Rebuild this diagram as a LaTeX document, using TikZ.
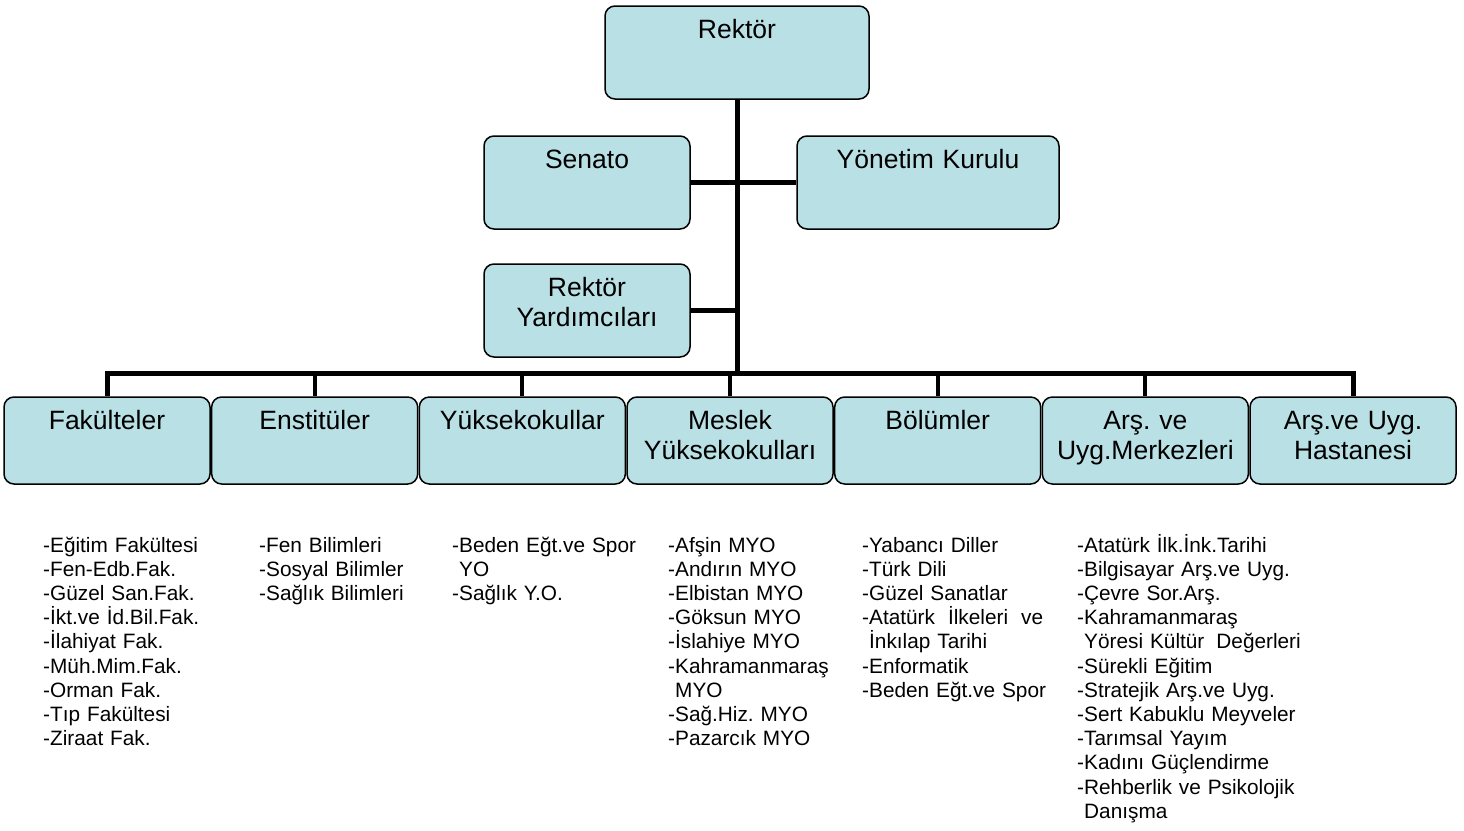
\documentclass[tikz,border=0pt]{standalone}
\usepackage{fontspec}
\setmainfont{Liberation Sans}
\usetikzlibrary{calc}
\definecolor{boxblue}{RGB}{185,224,228}
\newcommand{\boxfont}{\fontsize{26.5}{30.5}\selectfont\frenchspacing}
\newcommand{\listfont}{\fontsize{20.8}{24.2}\selectfont\frenchspacing}

\begin{document}
\begin{tikzpicture}[x=1pt, y=-1pt,
    unit/.style={draw=black, line width=1.5pt, rounded corners=10pt, fill=boxblue,
        align=center, font=\boxfont, inner xsep=4pt, inner ysep=5pt, text height=27pt},
    topunit/.style={unit, text depth=56pt},
    subunit/.style={unit, text width=198pt, text depth=50pt},
    branch/.style={draw=black, line width=5pt},
    sublist/.style={anchor=base west, inner sep=0pt, text width=260pt, align=left, font=\listfont}]
        \useasboundingbox (0,0) rectangle (1464,830);

        % top of the chart
        \node[topunit, text width=256pt] (rektor) at (737,52.5) {Rektör};
        \node[topunit, text width=198pt] (senato) at (587,182.5) {Senato};
        \node[topunit, text width=254pt] (yonetim) at (928,182.5) {Yönetim Kurulu};
        \node[topunit, text width=198pt] (yardimci) at (587,310.5) {Rektör\\Yardımcıları};

        % units
        \foreach \i/\txt in {1/Fakülteler, 2/Enstitüler, 3/Yüksekokullar,
                4/Meslek\\Yüksekokulları, 5/Bölümler, 6/Arş. ve\\Uyg.Merkezleri,
                7/Arş.ve Uyg.\\Hastanesi}
            \node[subunit] (b\i) at ({107+207.67*(\i-1)},440.5) {\txt};

        \coordinate (bus) at (737,373);
        \draw[branch] (rektor) -- (rektor |- bus);
        \draw[branch] (senato) -- (yonetim);
        \draw[branch] (yardimci.east) -- (yardimci.east -| rektor.south);
        \draw[branch] (b1.north) -- (b1.north |- bus) -- (b7.north |- bus) -- (b7.north);
        \foreach \i in {2,...,6}
            \draw[draw=black, line width=4pt] (b\i.north |- bus) -- (b\i.north);

        % lists under the units
        \node[sublist] (l1) at (43,552) {-Eğitim Fakültesi\\-Fen-Edb.Fak.\\-Güzel San.Fak.\\-İkt.ve İd.Bil.Fak.\\-İlahiyat Fak.\\-Müh.Mim.Fak.\\-Orman Fak.\\-Tıp Fakültesi\\-Ziraat Fak.};
        \node[sublist] (l2) at (259,552) {-Fen Bilimleri\\-Sosyal Bilimler\\-Sağlık Bilimleri};
        \node[sublist] (l3) at (452,552) {-Beden Eğt.ve Spor\\\hspace*{7pt}YO\\-Sağlık Y.O.};
        \node[sublist] (l4) at (668,552) {-Afşin MYO\\-Andırın MYO\\-Elbistan MYO\\-Göksun MYO\\-İslahiye MYO\\-Kahramanmaraş\\\hspace*{7pt}MYO\\-Sağ.Hiz. MYO\\-Pazarcık MYO};
        \node[sublist] (l5) at (862,552) {-Yabancı Diller\\-Türk Dili\\-Güzel Sanatlar\\-Atatürk\hspace{13pt}İlkeleri\hspace{13pt}ve\\\hspace*{7pt}İnkılap Tarihi\\-Enformatik\\-Beden Eğt.ve Spor};
        \node[sublist] (l6) at (1077,552) {-Atatürk İlk.İnk.Tarihi\\-Bilgisayar Arş.ve Uyg.\\-Çevre Sor.Arş.\\-Kahramanmaraş\\\hspace*{7pt}Yöresi Kültür\hspace{12pt}Değerleri\\-Sürekli Eğitim\\-Stratejik Arş.ve Uyg.\\-Sert Kabuklu Meyveler\\-Tarımsal Yayım\\-Kadını Güçlendirme\\-Rehberlik ve Psikolojik\\\hspace*{7pt}Danışma};
    \end{tikzpicture}
\end{document}
